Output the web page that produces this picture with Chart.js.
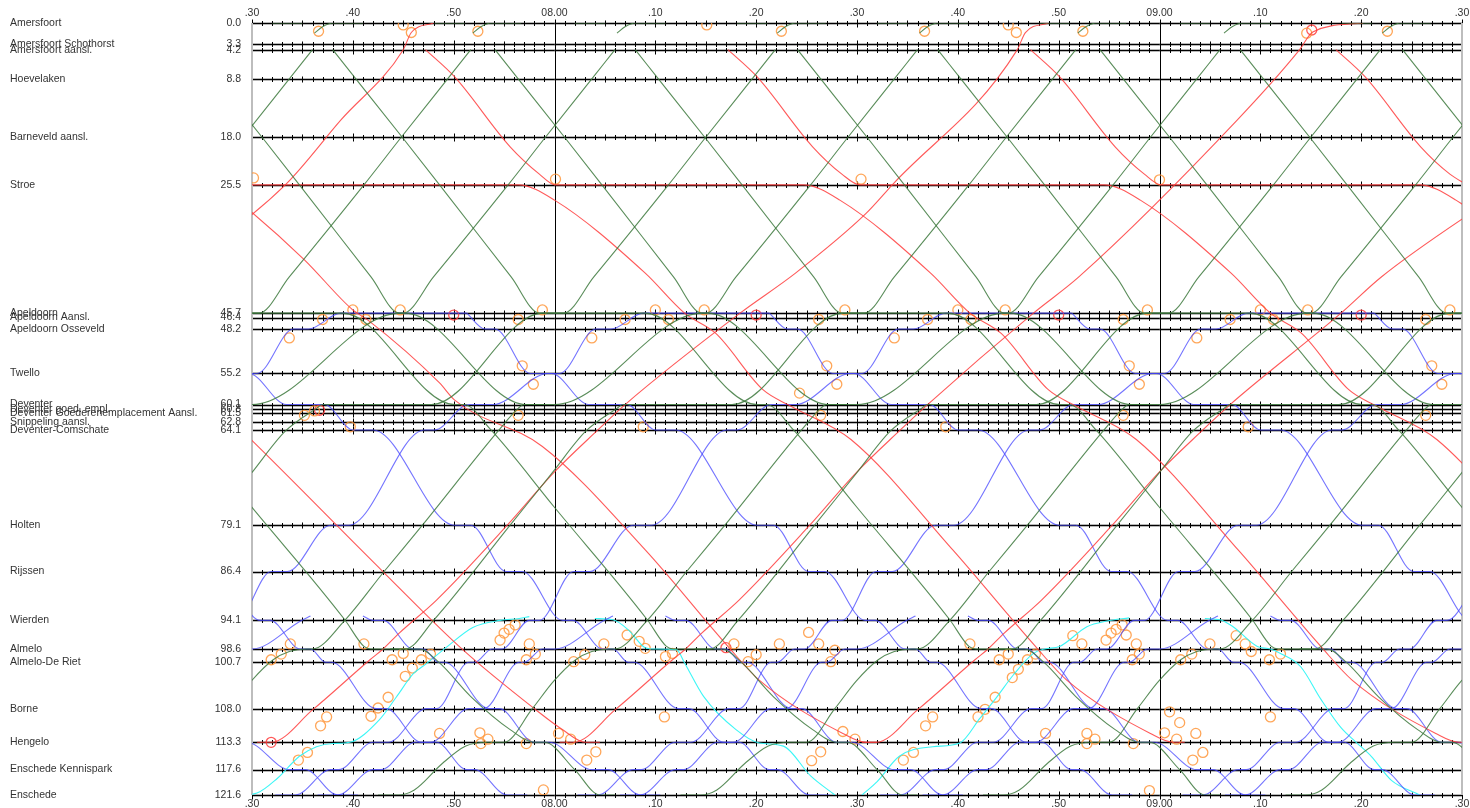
<!DOCTYPE html>
<html>
<head>
<meta charset="utf-8">
<script src="https://cdn.jsdelivr.net/npm/chart.js@4.4.1/dist/chart.umd.min.js"></script>
<style>
  html, body { margin: 0; padding: 0; background: #fff; }
</style>
</head>
<body>
<canvas id="graph" width="1470" height="808"></canvas>
<script>
// stations along the line (km from Amersfoort)
const stationNames = ['Amersfoort', 'Amersfoort Schothorst', 'Amersfoort aansl.', 'Hoevelaken', 'Barneveld aansl.', 'Stroe',
  'Apeldoorn', 'Apeldoorn Aansl.', 'Apeldoorn Osseveld', 'Twello', 'Deventer', 'Deventer goed. empl.',
  'Deventer Goederenemplacement Aansl.', 'Snippeling aansl.', 'Deventer-Comschate', 'Holten', 'Rijssen', 'Wierden',
  'Almelo', 'Almelo-De Riet', 'Borne', 'Hengelo', 'Enschede Kennispark', 'Enschede'];
const stationKm = [0.0, 3.3, 4.2, 8.8, 18.0, 25.5, 45.7, 46.4, 48.2, 55.2, 60.1, 60.8, 61.5, 62.8, 64.1, 79.1, 86.4, 94.1,
  98.6, 100.7, 108.0, 113.3, 117.6, 121.6];

// time axis, minutes after 07.00
const timeTicks = [30, 40, 50, 60, 70, 80, 90, 100, 110, 120, 130, 140, 150];
const timeLabels = ['.30', '.40', '.50', '08.00', '.10', '.20', '.30', '.40', '.50', '09.00', '.10', '.20', '.30'];

// intercity paths [minute, km]
const greenTrains = [
  // at Amersfoort
  [[32.0, 0.0], [35.0, 0.0]],
  [[36.2, 1.6], [37.0, 0.6], [38.0, 0.0], [41.0, 0.0]],
  [[48.1, 0.0], [51.1, 0.0]],
  [[51.9, 1.6], [52.7, 0.6], [53.7, 0.0], [56.7, 0.0]],
  [[62.0, 0.0], [65.0, 0.0]],
  [[66.2, 1.6], [67.0, 0.6], [68.0, 0.0], [71.0, 0.0]],
  [[78.1, 0.0], [81.1, 0.0]],
  [[82.1, 1.6], [82.9, 0.6], [83.9, 0.0], [86.9, 0.0]],
  [[92.0, 0.0], [95.0, 0.0]],
  [[96.2, 1.6], [97.0, 0.6], [98.0, 0.0], [101.0, 0.0]],
  [[108.1, 0.0], [111.1, 0.0]],
  [[111.9, 1.6], [112.7, 0.6], [113.7, 0.0], [116.7, 0.0]],
  [[122.0, 0.0], [125.0, 0.0]],
  [[126.4, 1.6], [127.2, 0.6], [128.2, 0.0], [131.2, 0.0]],
  [[138.1, 0.0], [141.1, 0.0]],
  [[142.1, 1.6], [142.9, 0.6], [143.9, 0.0], [146.9, 0.0]],
  // down, through to Enschede
  [[20.1, 60.1], [21.0, 60.1], [23.7, 64.1], [29.95, 76.2], [39.2, 94.0], [41.1, 98.2], [41.8, 98.6], [46.6, 98.6], [48.6, 100.8], [51.7, 106.1], [55.6, 111.3], [58.0, 113.3], [59.0, 113.3], [62.0, 117.6], [64.5, 121.6], [66.0, 121.6]],
  [[8.0, 4.2], [10.3, 8.8], [14.9, 18.0], [18.6, 25.5], [25.7, 40.0], [28.5, 45.7], [39.0, 45.7], [50.1, 60.1], [51.0, 60.1], [53.7, 64.1], [59.95, 76.2], [69.2, 94.0], [71.1, 98.2], [71.8, 98.6], [76.6, 98.6], [78.6, 100.8], [81.7, 106.1], [85.6, 111.3], [88.0, 113.3], [89.0, 113.3], [92.0, 117.6], [94.5, 121.6], [96.0, 121.6]],
  [[38.0, 4.2], [40.3, 8.8], [44.9, 18.0], [48.6, 25.5], [55.7, 40.0], [58.5, 45.7], [69.0, 45.7], [80.1, 60.1], [81.0, 60.1], [83.7, 64.1], [89.95, 76.2], [99.2, 94.0], [101.1, 98.2], [101.8, 98.6], [106.6, 98.6], [108.6, 100.8], [111.7, 106.1], [115.6, 111.3], [118.0, 113.3], [119.0, 113.3], [122.0, 117.6], [124.5, 121.6], [126.0, 121.6]],
  [[68.0, 4.2], [70.3, 8.8], [74.9, 18.0], [78.6, 25.5], [85.7, 40.0], [88.5, 45.7], [99.0, 45.7], [110.1, 60.1], [111.0, 60.1], [113.7, 64.1], [119.95, 76.2], [129.2, 94.0], [131.1, 98.2], [131.8, 98.6], [136.6, 98.6], [138.6, 100.8], [141.7, 106.1], [145.6, 111.3], [148.0, 113.3], [149.0, 113.3], [152.0, 117.6]],
  [[98.0, 4.2], [100.3, 8.8], [104.9, 18.0], [108.6, 25.5], [115.7, 40.0], [118.5, 45.7], [129.0, 45.7], [140.1, 60.1], [141.0, 60.1], [143.7, 64.1], [149.95, 76.2], [159.2, 94.0]],
  [[128.0, 4.2], [130.3, 8.8], [134.9, 18.0], [138.6, 25.5], [145.7, 40.0], [148.5, 45.7], [159.0, 45.7]],
  // down, ending at Deventer
  [[24.1, 4.2], [26.4, 8.8], [31.0, 18.0], [34.7, 25.5], [41.8, 40.0], [44.6, 45.7], [45.2, 45.7], [57.2, 60.1], [59.0, 60.1]],
  [[54.1, 4.2], [56.4, 8.8], [61.0, 18.0], [64.7, 25.5], [71.8, 40.0], [74.6, 45.7], [75.2, 45.7], [87.2, 60.1], [89.0, 60.1]],
  [[84.1, 4.2], [86.4, 8.8], [91.0, 18.0], [94.7, 25.5], [101.8, 40.0], [104.6, 45.7], [105.2, 45.7], [117.2, 60.1], [119.0, 60.1]],
  [[114.1, 4.2], [116.4, 8.8], [121.0, 18.0], [124.7, 25.5], [131.8, 40.0], [134.6, 45.7], [135.2, 45.7], [147.2, 60.1], [149.0, 60.1]],
  [[144.1, 4.2], [146.4, 8.8], [151.0, 18.0]],
  // up, from Enschede
  [[14.3, 45.7], [15.0, 45.7], [18.0, 40.0], [25.4, 25.5], [29.1, 18.0], [33.7, 8.8], [36.0, 4.2]],
  [[27.0, 60.1], [30.0, 60.1], [44.65, 45.7], [45.0, 45.7], [48.0, 40.0], [55.4, 25.5], [59.1, 18.0], [63.7, 8.8], [66.0, 4.2]],
  [[12.5, 121.6], [14.5, 121.6], [16.1, 120.8], [18.9, 116.6], [21.2, 113.9], [23.3, 113.3], [25.0, 113.3], [27.8, 108.0], [29.9, 103.7], [32.1, 100.3], [33.7, 99.0], [35.4, 98.6], [36.0, 98.6], [39.2, 94.1], [43.1, 86.4], [46.9, 79.1], [54.5, 64.1], [56.4, 60.7], [57.0, 60.1], [60.0, 60.1], [74.65, 45.7], [75.0, 45.7], [78.0, 40.0], [85.4, 25.5], [89.1, 18.0], [93.7, 8.8], [96.0, 4.2]],
  [[42.5, 121.6], [44.5, 121.6], [46.1, 120.8], [48.9, 116.6], [51.2, 113.9], [53.3, 113.3], [55.0, 113.3], [57.8, 108.0], [59.9, 103.7], [62.1, 100.3], [63.7, 99.0], [65.4, 98.6], [66.0, 98.6], [69.2, 94.1], [73.1, 86.4], [76.9, 79.1], [84.5, 64.1], [86.4, 60.7], [87.0, 60.1], [90.0, 60.1], [104.65, 45.7], [105.0, 45.7], [108.0, 40.0], [115.4, 25.5], [119.1, 18.0], [123.7, 8.8], [126.0, 4.2]],
  [[72.5, 121.6], [74.5, 121.6], [76.1, 120.8], [78.9, 116.6], [81.2, 113.9], [83.3, 113.3], [85.0, 113.3], [87.8, 108.0], [89.9, 103.7], [92.1, 100.3], [93.7, 99.0], [95.4, 98.6], [96.0, 98.6], [99.2, 94.1], [103.1, 86.4], [106.9, 79.1], [114.5, 64.1], [116.4, 60.7], [117.0, 60.1], [120.0, 60.1], [134.65, 45.7], [135.0, 45.7], [138.0, 40.0], [145.4, 25.5], [149.1, 18.0], [153.7, 8.8]],
  [[102.5, 121.6], [104.5, 121.6], [106.1, 120.8], [108.9, 116.6], [111.2, 113.9], [113.3, 113.3], [115.0, 113.3], [117.8, 108.0], [119.9, 103.7], [122.1, 100.3], [123.7, 99.0], [125.4, 98.6], [126.0, 98.6], [129.2, 94.1], [133.1, 86.4], [136.9, 79.1], [144.5, 64.1], [146.4, 60.7], [147.0, 60.1], [150.0, 60.1]],
  [[132.5, 121.6], [134.5, 121.6], [136.1, 120.8], [138.9, 116.6], [141.2, 113.9], [143.3, 113.3], [145.0, 113.3], [147.8, 108.0], [149.9, 103.7], [152.1, 100.3]],
  // up, from Almelo
  [[28.6, 45.7], [30.7, 45.7], [33.7, 40.0], [41.1, 25.5], [44.8, 18.0], [49.4, 8.8], [51.7, 4.2]],
  [[13.9, 98.6], [15.4, 98.6], [18.2, 94.1], [25.8, 79.1], [29.95, 70.9], [33.3, 64.3], [36.4, 60.7], [37.0, 60.1], [47.8, 60.1], [58.8, 45.7], [60.9, 45.7], [63.9, 40.0], [71.3, 25.5], [75.0, 18.0], [79.6, 8.8], [81.9, 4.2]],
  [[43.7, 98.6], [45.2, 98.6], [48.0, 94.1], [55.6, 79.1], [59.75, 70.9], [63.1, 64.3], [66.2, 60.7], [66.8, 60.1], [77.6, 60.1], [88.6, 45.7], [90.7, 45.7], [93.7, 40.0], [101.1, 25.5], [104.8, 18.0], [109.4, 8.8], [111.7, 4.2]],
  [[73.9, 98.6], [75.4, 98.6], [78.2, 94.1], [85.8, 79.1], [89.95, 70.9], [93.3, 64.3], [96.4, 60.7], [97.0, 60.1], [107.8, 60.1], [118.8, 45.7], [120.9, 45.7], [123.9, 40.0], [131.3, 25.5], [135.0, 18.0], [139.6, 8.8], [141.9, 4.2]],
  [[103.9, 98.6], [105.4, 98.6], [108.2, 94.1], [115.8, 79.1], [119.95, 70.9], [123.3, 64.3], [126.4, 60.7], [127.0, 60.1], [137.8, 60.1], [148.8, 45.7], [150.9, 45.7]],
  [[133.9, 98.6], [135.4, 98.6], [138.2, 94.1], [145.8, 79.1], [149.95, 70.9], [153.3, 64.3]]
];

// freight / international paths
const redTrains = [
  [[18.0, 45.7], [22.0, 40.0], [33.3, 25.5], [38.8, 15.3], [45.0, 4.2], [45.8, 1.5], [48.0, 0.0]],
  [[30.5, 113.3], [31.9, 113.3], [36.0, 108.2], [41.7, 100.3], [43.0, 98.6], [44.6, 96.1], [48.3, 90.9], [55.2, 79.3], [60.0, 70.7],
    [64.3, 64.1], [67.0, 60.1], [78.4, 45.7], [83.9, 39.4], [90.9, 30.0], [93.5, 25.5], [105.9, 4.2], [106.7, 1.5], [109.0, 0.0]],
  [[60.5, 113.3], [61.9, 113.3], [66.0, 108.2], [71.7, 100.3], [73.0, 98.6], [74.6, 96.1], [78.3, 90.9], [85.2, 79.3], [90.0, 70.7],
    [94.3, 64.1], [97.0, 60.1], [107.5, 45.7], [112.0, 40.0], [127.7, 15.3], [133.9, 4.2], [135.2, 1.4], [140.2, 0.0]],
  [[90.5, 113.3], [91.9, 113.3], [96.0, 108.2], [101.7, 100.3], [103.0, 98.6], [104.6, 96.1], [108.3, 90.9], [115.2, 79.3], [120.0, 70.7],
    [124.3, 64.1], [127.0, 60.1], [138.0, 45.7], [142.0, 40.0], [155.0, 25.5]],
  [[25.0, 60.1], [28.9, 64.1], [29.95, 65.7], [43.1, 86.6], [50.9, 98.7], [58.0, 108.0], [60.7, 111.2], [63.1, 113.3], [64.5, 113.3]],
  [[17.0, 4.2], [19.9, 8.5], [25.4, 19.5], [28.3, 23.8], [30.2, 25.5], [56.4, 25.5], [60.0, 27.9], [69.0, 39.4], [72.9, 45.7],
    [76.0, 48.9], [80.7, 57.8], [83.5, 60.4], [89.4, 65.6], [99.5, 83.0], [107.7, 98.2], [110.8, 103.5], [119.1, 111.9], [121.4, 113.3], [122.5, 113.3]],
  [[47.2, 4.2], [50.1, 8.5], [55.6, 19.5], [58.5, 23.8], [60.1, 25.5], [84.7, 25.5], [88.3, 27.9], [97.3, 39.4], [101.2, 45.7],
    [104.3, 48.9], [109.0, 57.8], [111.8, 60.4], [117.7, 65.6], [127.8, 83.0], [136.0, 98.2], [139.1, 103.5], [147.4, 111.9], [149.7, 113.3], [150.8, 113.3]],
  [[77.2, 4.2], [80.1, 8.5], [85.6, 19.5], [88.5, 23.8], [90.3, 25.5], [114.5, 25.5], [118.1, 27.9], [127.1, 39.4], [131.0, 45.7],
    [134.1, 48.9], [138.8, 57.8], [141.6, 60.4], [147.5, 65.6], [157.6, 83.0]],
  [[107.2, 4.2], [110.1, 8.5], [115.6, 19.5], [118.5, 23.8], [120.2, 25.5], [145.8, 25.5], [149.4, 27.9], [158.4, 39.4]],
  [[137.5, 4.2], [140.4, 8.5], [145.9, 19.5], [148.8, 23.8], [150.5, 25.5]],
  [[26.5, 25.5], [29.75, 29.5], [35.2, 37.3], [40.0, 45.2], [41.5, 46.8], [48.6, 56.7], [50.1, 59.4], [58.8, 66.7], [69.0, 83.0],
    [77.2, 98.2], [80.3, 103.5], [88.6, 111.9], [90.9, 113.3], [92.0, 113.3]]
];

// sprinter paths
const blueTrains = [
  [[20.1, 79.1], [21.7, 79.1], [25.2, 86.4], [26.8, 86.4], [30.8, 94.1], [31.8, 94.1], [34.8, 98.6], [35.8, 98.6], [37.3, 100.7], [37.9, 100.7], [42.3, 108.0], [43.3, 108.0], [46.8, 113.3], [48.3, 113.3], [51.3, 117.6], [52.1, 117.6], [55.3, 121.6], [57.3, 121.6]],
  [[21.3, 45.7], [23.1, 48.2], [24.1, 48.2], [27.6, 55.2], [29.7, 55.2], [33.4, 60.1], [37.2, 60.1], [40.0, 64.1], [42.0, 64.1], [50.1, 79.1], [51.7, 79.1], [55.2, 86.4], [56.8, 86.4], [60.8, 94.1], [61.8, 94.1], [64.8, 98.6], [65.8, 98.6], [67.3, 100.7], [67.9, 100.7], [72.3, 108.0], [73.3, 108.0], [76.8, 113.3], [78.3, 113.3], [81.3, 117.6], [82.1, 117.6], [85.3, 121.6], [87.3, 121.6]],
  [[51.3, 45.7], [53.1, 48.2], [54.1, 48.2], [57.6, 55.2], [59.7, 55.2], [63.4, 60.1], [67.2, 60.1], [70.0, 64.1], [72.0, 64.1], [80.1, 79.1], [81.7, 79.1], [85.2, 86.4], [86.8, 86.4], [90.8, 94.1], [91.8, 94.1], [94.8, 98.6], [95.8, 98.6], [97.3, 100.7], [97.9, 100.7], [102.3, 108.0], [103.3, 108.0], [106.8, 113.3], [108.3, 113.3], [111.3, 117.6], [112.1, 117.6], [115.3, 121.6], [117.3, 121.6]],
  [[81.3, 45.7], [83.1, 48.2], [84.1, 48.2], [87.6, 55.2], [89.7, 55.2], [93.4, 60.1], [97.2, 60.1], [100.0, 64.1], [102.0, 64.1], [110.1, 79.1], [111.7, 79.1], [115.2, 86.4], [116.8, 86.4], [120.8, 94.1], [121.8, 94.1], [124.8, 98.6], [125.8, 98.6], [127.3, 100.7], [127.9, 100.7], [132.3, 108.0], [133.3, 108.0], [136.8, 113.3], [138.3, 113.3], [141.3, 117.6], [142.1, 117.6], [145.3, 121.6], [147.3, 121.6]],
  [[111.3, 45.7], [113.1, 48.2], [114.1, 48.2], [117.6, 55.2], [119.7, 55.2], [123.4, 60.1], [127.2, 60.1], [130.0, 64.1], [132.0, 64.1], [140.1, 79.1], [141.7, 79.1], [145.2, 86.4], [146.8, 86.4], [150.8, 94.1], [151.8, 94.1]],
  [[141.3, 45.7], [143.1, 48.2], [144.1, 48.2], [147.6, 55.2], [149.7, 55.2], [153.4, 60.1]],
  [[21.5, 60.1], [23.9, 60.1], [29.35, 55.2], [30.5, 55.2], [34.1, 48.2], [35.6, 48.2], [38.8, 45.7], [51.3, 45.7]],
  [[23.8, 98.6], [24.8, 98.6], [27.5, 94.1], [28.5, 94.1], [31.9, 86.4], [33.5, 86.4], [37.8, 79.1], [39.6, 79.1], [47.1, 64.1], [48.1, 64.1], [51.5, 60.1], [53.9, 60.1], [59.35, 55.2], [60.5, 55.2], [64.1, 48.2], [65.6, 48.2], [68.8, 45.7], [81.3, 45.7]],
  [[32.3, 121.6], [34.3, 121.6], [37.8, 117.6], [38.6, 117.6], [42.0, 113.3], [43.5, 113.3], [47.3, 108.0], [48.3, 108.0], [51.5, 100.7], [52.1, 100.7], [53.8, 98.6], [54.8, 98.6], [57.5, 94.1], [58.5, 94.1], [61.9, 86.4], [63.5, 86.4], [67.8, 79.1], [69.6, 79.1], [77.1, 64.1], [78.1, 64.1], [81.5, 60.1], [83.9, 60.1], [89.35, 55.2], [90.5, 55.2], [94.1, 48.2], [95.6, 48.2], [98.8, 45.7], [111.3, 45.7]],
  [[62.3, 121.6], [64.3, 121.6], [67.8, 117.6], [68.6, 117.6], [72.0, 113.3], [73.5, 113.3], [77.3, 108.0], [78.3, 108.0], [81.5, 100.7], [82.1, 100.7], [83.8, 98.6], [84.8, 98.6], [87.5, 94.1], [88.5, 94.1], [91.9, 86.4], [93.5, 86.4], [97.8, 79.1], [99.6, 79.1], [107.1, 64.1], [108.1, 64.1], [111.5, 60.1], [113.9, 60.1], [119.35, 55.2], [120.5, 55.2], [124.1, 48.2], [125.6, 48.2], [128.8, 45.7], [141.3, 45.7]],
  [[92.3, 121.6], [94.3, 121.6], [97.8, 117.6], [98.6, 117.6], [102.0, 113.3], [103.5, 113.3], [107.3, 108.0], [108.3, 108.0], [111.5, 100.7], [112.1, 100.7], [113.8, 98.6], [114.8, 98.6], [117.5, 94.1], [118.5, 94.1], [121.9, 86.4], [123.5, 86.4], [127.8, 79.1], [129.6, 79.1], [137.1, 64.1], [138.1, 64.1], [141.5, 60.1], [143.9, 60.1], [149.35, 55.2], [150.5, 55.2]],
  [[122.3, 121.6], [124.3, 121.6], [127.8, 117.6], [128.6, 117.6], [132.0, 113.3], [133.5, 113.3], [137.3, 108.0], [138.3, 108.0], [141.5, 100.7], [142.1, 100.7], [143.8, 98.6], [144.8, 98.6], [147.5, 94.1], [148.5, 94.1], [151.9, 86.4]],
  // Wierden branch sprinters
  [[11.0, 93.4], [12.0, 94.1], [13.0, 94.1], [16.0, 98.6], [17.0, 98.6], [18.5, 100.7], [19.1, 100.7], [23.5, 108.0], [24.5, 108.0], [28.0, 113.3], [29.5, 113.3], [33.7, 117.6], [35.3, 117.6], [38.5, 121.6], [40.5, 121.6]],
  [[41.0, 93.4], [42.0, 94.1], [43.0, 94.1], [46.0, 98.6], [47.0, 98.6], [48.5, 100.7], [49.1, 100.7], [53.5, 108.0], [54.5, 108.0], [58.0, 113.3], [59.5, 113.3], [63.7, 117.6], [65.3, 117.6], [68.5, 121.6], [70.5, 121.6]],
  [[71.0, 93.4], [72.0, 94.1], [73.0, 94.1], [76.0, 98.6], [77.0, 98.6], [78.5, 100.7], [79.1, 100.7], [83.5, 108.0], [84.5, 108.0], [88.0, 113.3], [89.5, 113.3], [93.7, 117.6], [95.3, 117.6], [98.5, 121.6], [100.5, 121.6]],
  [[101.0, 93.4], [102.0, 94.1], [103.0, 94.1], [106.0, 98.6], [107.0, 98.6], [108.5, 100.7], [109.1, 100.7], [113.5, 108.0], [114.5, 108.0], [118.0, 113.3], [119.5, 113.3], [123.7, 117.6], [125.3, 117.6], [128.5, 121.6], [130.5, 121.6]],
  [[131.0, 93.4], [132.0, 94.1], [133.0, 94.1], [136.0, 98.6], [137.0, 98.6], [138.5, 100.7], [139.1, 100.7], [143.5, 108.0], [144.5, 108.0], [148.0, 113.3], [149.5, 113.3], [153.7, 117.6]],
  [[26.5, 100.7], [27.0, 100.7], [28.8, 98.6], [30.0, 98.6], [34.9, 94.1], [35.8, 93.4]],
  [[36.5, 121.6], [38.5, 121.6], [42.0, 117.6], [42.8, 117.6], [46.2, 113.3], [47.7, 113.3], [51.5, 108.0], [53.0, 108.0], [56.5, 100.7], [57.0, 100.7], [58.8, 98.6], [60.0, 98.6], [64.9, 94.1], [65.8, 93.4]],
  [[66.5, 121.6], [68.5, 121.6], [72.0, 117.6], [72.8, 117.6], [76.2, 113.3], [77.7, 113.3], [81.5, 108.0], [83.0, 108.0], [86.5, 100.7], [87.0, 100.7], [88.8, 98.6], [90.0, 98.6], [94.9, 94.1], [95.8, 93.4]],
  [[96.5, 121.6], [98.5, 121.6], [102.0, 117.6], [102.8, 117.6], [106.2, 113.3], [107.7, 113.3], [111.5, 108.0], [113.0, 108.0], [116.5, 100.7], [117.0, 100.7], [118.8, 98.6], [120.0, 98.6], [124.9, 94.1], [125.8, 93.4]],
  [[126.5, 121.6], [128.5, 121.6], [132.0, 117.6], [132.8, 117.6], [136.2, 113.3], [137.7, 113.3], [141.5, 108.0], [143.0, 108.0], [146.5, 100.7], [147.0, 100.7], [148.8, 98.6], [150.0, 98.6]]
];

// regional trains Enschede - Wierden
const cyanTrains = [
  [[29.0, 121.6], [30.5, 121.3], [32.5, 119.0], [34.7, 115.5], [36.4, 114.0], [38.0, 113.5], [39.7, 113.3], [42.6, 109.8], [44.3, 106.2], [46.0, 102.5], [47.3, 100.9], [49.3, 98.3], [51.9, 95.2], [54.6, 94.1], [56.5, 93.8], [57.5, 93.5]],
  [[90.5, 121.6], [92.0, 119.5], [94.2, 115.5], [97.5, 114.0], [100.2, 113.4], [102.2, 109.5], [103.9, 106.1], [105.5, 102.7], [107.5, 99.3], [108.6, 98.6], [110.1, 98.2], [112.8, 95.1], [114.8, 94.2], [117.0, 93.7]],
  [[64.0, 93.8], [65.8, 94.0], [67.4, 95.7], [69.0, 98.4], [70.0, 98.6], [72.1, 98.7], [72.9, 100.8], [74.8, 106.1], [78.0, 111.3], [80.3, 113.4], [82.7, 113.9], [85.4, 118.6], [87.8, 121.6]],
  [[124.5, 93.8], [126.0, 94.0], [127.3, 95.1], [129.7, 98.2], [131.0, 98.6], [132.0, 99.3], [134.0, 101.4], [136.0, 106.5], [138.0, 111.0], [139.5, 113.3], [141.0, 115.5], [143.0, 119.3], [145.8, 121.6]]
];

// timing-point markers [minute, km]
const orangeMarks = [
  [36.6, 1.3], [45.0, 0.3], [45.8, 1.5], [52.4, 1.3], [75.1, 0.3], [82.5, 1.3], [96.7, 1.3], [105.0, 0.3], [105.8, 1.5],
  [112.4, 1.3], [134.6, 1.6], [142.6, 1.3],
  [30.15, 24.4], [60.1, 24.6], [90.4, 24.6], [120.0, 24.7],
  [40.0, 45.2], [44.7, 45.2], [58.8, 45.2], [70.0, 45.2], [74.85, 45.2], [88.8, 45.2], [100.0, 45.2], [104.7, 45.2],
  [118.8, 45.2], [130.0, 45.2], [134.7, 45.2], [148.8, 45.2],
  [37.0, 46.7], [41.3, 46.7], [56.4, 46.7], [67.0, 46.7], [71.3, 46.7], [86.2, 46.7], [97.0, 46.7], [101.3, 46.7],
  [116.4, 46.7], [127.0, 46.7], [131.3, 46.7], [146.4, 46.7],
  [33.7, 49.6], [63.7, 49.6], [93.7, 49.6], [123.7, 49.6],
  [56.8, 54.0], [57.9, 56.9], [87.0, 54.0], [88.0, 56.9], [117.0, 54.0], [118.0, 56.9], [147.0, 54.0], [148.0, 56.9],
  [84.3, 58.3], [35.2, 61.8], [36.2, 61.1], [39.75, 63.6], [56.4, 61.8], [68.8, 63.6], [86.4, 61.8], [98.8, 63.6],
  [116.4, 61.8], [128.8, 63.6], [146.4, 61.8],
  [31.9, 100.3], [32.9, 99.4], [33.8, 97.8], [41.1, 97.8], [34.6, 116.1], [35.5, 114.9], [36.8, 110.7], [37.4, 109.3],
  [41.8, 109.2], [42.5, 107.9], [43.5, 106.2], [45.2, 102.9], [45.9, 101.6], [46.8, 100.3], [47.7, 99.4], [43.9, 100.3],
  [45.0, 99.3], [48.6, 111.9], [52.6, 111.8], [53.4, 112.8], [52.7, 113.5], [57.2, 113.5], [60.4, 111.9], [61.6, 112.8],
  [58.9, 120.8], [54.6, 97.2], [55.0, 96.1], [55.5, 95.5], [56.1, 94.8], [57.5, 97.8], [58.1, 99.4], [57.2, 100.3],
  [63.2, 116.1], [64.1, 114.8], [61.9, 100.6], [63.0, 99.5], [64.9, 97.8], [67.2, 96.4], [68.4, 97.4], [69.0, 98.5],
  [71.0, 99.8], [71.7, 99.3], [70.9, 109.3], [77.8, 97.8], [79.2, 100.6], [80.0, 99.5], [82.3, 97.8], [85.2, 96.0],
  [86.2, 97.8], [87.8, 98.8], [87.4, 100.6], [85.5, 116.2], [86.4, 114.8], [88.6, 111.6], [89.8, 112.8],
  [94.6, 116.1], [95.6, 114.9], [96.8, 110.7], [97.5, 109.3], [101.2, 97.8], [102.0, 109.3], [102.7, 108.1], [103.7, 106.2],
  [104.1, 100.3], [105.0, 99.4], [105.4, 103.1], [106.0, 101.8], [106.9, 100.3], [107.7, 99.4], [108.7, 111.9],
  [112.8, 111.9], [113.6, 112.8], [112.8, 113.5], [117.4, 113.5], [111.4, 96.5], [112.3, 97.8], [114.7, 97.2],
  [115.2, 96.1], [115.7, 95.5], [116.3, 94.8], [116.7, 96.4], [117.7, 97.8], [118.0, 99.4], [117.3, 100.3],
  [121.0, 108.5], [122.0, 110.2], [120.5, 111.8], [121.7, 112.8], [123.6, 111.9], [119.0, 120.9], [123.3, 116.1],
  [124.3, 114.9], [122.1, 100.3], [123.2, 99.4], [125.0, 97.8], [127.6, 96.5], [128.5, 97.8], [129.1, 99.0],
  [130.9, 100.3], [132.0, 99.4], [131.0, 109.3]
];
const redMarks = [[135.1, 1.1], [50.0, 46.0], [80.0, 46.0], [110.0, 46.0], [140.0, 46.0], [36.7, 61.0], [31.9, 113.3], [77.0, 98.4]];

const GREEN = 'rgba(60,120,60,0.85)';
const RED = 'rgba(255,60,60,0.85)';
const BLUE = 'rgba(70,70,255,0.75)';
const CYAN = 'rgba(50,245,245,0.95)';
const ORANGE = 'rgba(255,150,60,0.85)';

function pathSet(points, color) {
  return {
    data: points.map(([t, km]) => ({ x: t, y: km })),
    borderColor: color,
    borderWidth: 1.1,
    showLine: true,
    pointRadius: 0,
    cubicInterpolationMode: 'monotone',
    capBezierPoints: false
  };
}

function markSet(points, color) {
  return {
    data: points.map(([t, km]) => ({ x: t, y: km })),
    showLine: false,
    pointRadius: 5,
    pointStyle: 'circle',
    borderColor: color,
    backgroundColor: 'rgba(0,0,0,0)',
    borderWidth: 1.3
  };
}

const datasets = [
  ...greenTrains.map(p => pathSet(p, GREEN)),
  ...redTrains.map(p => pathSet(p, RED)),
  ...blueTrains.map(p => pathSet(p, BLUE)),
  ...cyanTrains.map(p => pathSet(p, CYAN)),
  markSet(orangeMarks, ORANGE),
  markSet(redMarks, RED)
];

const FONT = '"Liberation Sans", Arial, sans-serif';

// station lines with minute ticks, hour lines, borders, station names and axis texts
const trackPlugin = {
  id: 'track',
  beforeDatasetsDraw(chart) {
    const { ctx, chartArea: a, scales } = chart;
    const xs = scales.x, ys = scales.y;
    ctx.save();
    stationKm.forEach(km => {
      const y = Math.round(ys.getPixelForValue(km)) + 0.5;
      ctx.strokeStyle = 'rgba(0,0,0,0.28)';
      ctx.lineWidth = 3;
      ctx.beginPath(); ctx.moveTo(a.left, y); ctx.lineTo(a.right, y); ctx.stroke();
      ctx.strokeStyle = '#000';
      ctx.lineWidth = 1;
      ctx.beginPath(); ctx.moveTo(a.left, y); ctx.lineTo(a.right, y); ctx.stroke();
      ctx.beginPath();
      for (let m = 30; m <= 150; m++) {
        const x = Math.round(xs.getPixelForValue(m)) + 0.5;
        const h = m % 10 === 0 ? 4 : (m % 5 === 0 ? 3 : 2.5);
        ctx.moveTo(x, y - h); ctx.lineTo(x, y + h);
      }
      ctx.stroke();
    });
    [60, 120].forEach(m => {
      const x = Math.round(xs.getPixelForValue(m)) + 0.5;
      ctx.strokeStyle = '#000';
      ctx.lineWidth = 1;
      ctx.beginPath(); ctx.moveTo(x, a.top); ctx.lineTo(x, a.bottom); ctx.stroke();
    });
    ctx.strokeStyle = '#bdbdbd';
    ctx.lineWidth = 2;
    ctx.beginPath();
    ctx.moveTo(a.left, a.top); ctx.lineTo(a.left, a.bottom);
    ctx.moveTo(a.right, a.top); ctx.lineTo(a.right, a.bottom);
    ctx.stroke();
    ctx.restore();
  },
  afterDraw(chart) {
    const { ctx, chartArea: a, scales } = chart;
    ctx.save();
    ctx.font = '10.5px ' + FONT;
    ctx.fillStyle = '#333';
    ctx.textBaseline = 'middle';
    stationNames.forEach((name, i) => {
      const y = scales.y.getPixelForValue(stationKm[i]);
      ctx.textAlign = 'left';
      ctx.fillText(name, 10, y);
      ctx.textAlign = 'right';
      ctx.fillText(stationKm[i].toFixed(1), 241, y);
    });
    ctx.textAlign = 'center';
    timeTicks.forEach((m, i) => {
      const x = scales.x.getPixelForValue(m);
      ctx.fillText(timeLabels[i], x, a.top - 10);
      ctx.fillText(timeLabels[i], x, a.bottom + 9);
    });
    ctx.restore();
  }
};

const timeAxis = (position, height) => ({
  type: 'linear',
  position,
  min: 30,
  max: 150,
  afterFit: s => { s.height = height; },
  grid: { display: false },
  border: { display: false },
  ticks: { display: false, stepSize: 10 }
});

new Chart(document.getElementById('graph'), {
  type: 'scatter',
  data: { datasets },
  options: {
    responsive: false,
    animation: false,
    devicePixelRatio: 1,
    layout: { padding: { left: 0, right: 8, top: 0, bottom: 0 } },
    plugins: { legend: { display: false }, tooltip: { enabled: false } },
    scales: {
      x: timeAxis('top', 23),
      x2: timeAxis('bottom', 13),
      y: {
        type: 'linear',
        reverse: true,
        min: 0,
        max: 121.6,
        afterFit: s => { s.width = 252; },
        grid: { display: false },
        border: { display: false },
        ticks: { display: false }
      }
    }
  },
  plugins: [trackPlugin]
});
</script>
</body>
</html>
